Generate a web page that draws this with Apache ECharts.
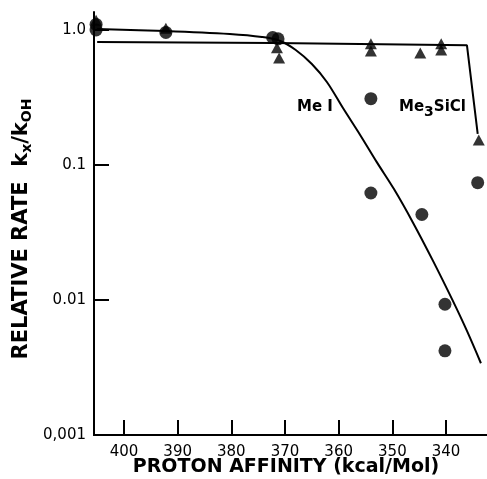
<!DOCTYPE html>
<html><head><meta charset="utf-8">
<script src="https://cdn.jsdelivr.net/npm/echarts@6/dist/echarts.min.js"></script>
<style>html,body{margin:0;padding:0;background:#fff}#c{width:487px;height:479px}</style>
</head><body><div id="c"></div>
<script>
// Data (proton affinity kcal/mol, relative rate kx/kOH)
const meIPoints = [[405.2,1.0],[405.2,1.1],[392.2,0.96],[372.3,0.88],[371.3,0.86],[354.0,0.31],[354.0,0.062],[344.5,0.043],[334.1,0.074],[340.2,0.0093],[340.2,0.0042]];
const me3SiClPoints = [[405.2,1.18],[392.2,1.03],[371.5,0.74],[371.1,0.62],[354.0,0.79],[354.0,0.70],[344.8,0.675],[340.9,0.79],[340.9,0.71],[333.9,0.153]];
const meICurve = [[405.0,1.017],[392.2,0.983],[380.3,0.934],[374.3,0.887],[370.9,0.829],[368.0,0.711],[365.0,0.560],[362.2,0.412],[359.2,0.264],[356.0,0.167],[352.9,0.105],[349.7,0.0663],[346.2,0.0377],[342.4,0.0194],[338.7,0.0098],[336.1,0.0059],[333.5,0.0034]];
const me3SiClLine = [[405.0,0.815],[372.0,0.80],[336.1,0.77],[334.1,0.17]];
const xTickLabels = [340,350,360,370,380,390,400];
const yLabels = {'1':'1.0','0.1':'0.1','0.01':'0.01','0.001':'0,001'};

const chart = echarts.init(document.getElementById('c'));
const font = 'DejaVu Sans';
chart.setOption({
  animation:false,
  backgroundColor:'#fff',
  grid:[
    {left:94,right:-12.7,top:30,bottom:44,containLabel:false,outerBoundsMode:'none'},
    {left:94,right:-12.7,top:12,bottom:44,containLabel:false,outerBoundsMode:'none'}
  ],
  xAxis:[
    {type:'value',gridIndex:0,inverse:true,min:330,max:405.59,interval:10,
      axisLine:{lineStyle:{color:'#000',width:2}},
      axisTick:{inside:true,length:15,lineStyle:{color:'#000',width:2}},
      splitLine:{show:false},
      axisLabel:{color:'#000',fontFamily:font,fontSize:15,margin:10,showMinLabel:false,showMaxLabel:false,
        formatter:v=> xTickLabels.indexOf(Math.round(v))>=0 && Math.abs(v-Math.round(v))<1e-6 ? String(Math.round(v)):''}
    },
    {type:'value',gridIndex:1,show:false,min:0,max:1}
  ],
  yAxis:[
    {type:'log',gridIndex:0,logBase:10,min:0.001,max:1,
      axisLine:{show:true,lineStyle:{color:'#000',width:2}},
      axisTick:{show:true,inside:true,length:15,lineStyle:{color:'#000',width:2}},
      splitLine:{show:false},minorTick:{show:false},
      axisLabel:{color:'#000',fontFamily:font,fontSize:15,margin:8,
        formatter:v=>{const k=String(+(+v).toPrecision(6));return yLabels[k]!==undefined?yLabels[k]:'';}}
    },
    {type:'value',gridIndex:1,min:0,max:1,
      axisLine:{show:true,lineStyle:{color:'#000',width:2}},
      axisTick:{show:false},axisLabel:{show:false},splitLine:{show:false}}
  ],
  graphic:[
    {type:'text',x:315,y:107,style:{text:'Me I',font:'bold 15px "DejaVu Sans"',fill:'#000',align:'center',verticalAlign:'middle'}},
    {type:'text',x:399,y:107,style:{text:'{a|Me}{s|3}{a|SiCl}',fill:'#000',verticalAlign:'middle',
      rich:{a:{fontFamily:font,fontSize:15,fontWeight:'bold',fill:'#000'},s:{fontFamily:font,fontSize:14,fontWeight:'bold',fill:'#000',padding:[10,0,0,0]}}}},
    {type:'text',x:286,y:467,style:{text:'PROTON AFFINITY (kcal/Mol)',font:'bold 19px "DejaVu Sans"',fill:'#000',align:'center',verticalAlign:'middle'}},
    {type:'text',x:22,y:229,rotation:Math.PI/2,style:{text:'{a|RELATIVE RATE  k}{s|x}{a|/k}{s|OH}',align:'center',verticalAlign:'middle',
      rich:{a:{fontFamily:font,fontSize:21,fontWeight:'bold',fill:'#000'},s:{fontFamily:font,fontSize:14,fontWeight:'bold',fill:'#000',padding:[10,0,0,0]}}}}
  ],
  series:[
    {type:'line',xAxisIndex:0,yAxisIndex:0,data:meICurve,smooth:0.35,symbol:'none',lineStyle:{color:'#000',width:2},clip:false},
    {type:'line',xAxisIndex:0,yAxisIndex:0,data:me3SiClLine,symbol:'none',lineStyle:{color:'#000',width:2},clip:false},
    {type:'scatter',xAxisIndex:0,yAxisIndex:0,data:meIPoints,symbol:'circle',symbolSize:13,itemStyle:{color:'#000'},clip:false},
    {type:'scatter',xAxisIndex:0,yAxisIndex:0,data:me3SiClPoints,symbol:'triangle',symbolSize:[12,11],itemStyle:{color:'#000'},clip:false}
  ]
});
</script></body></html>
